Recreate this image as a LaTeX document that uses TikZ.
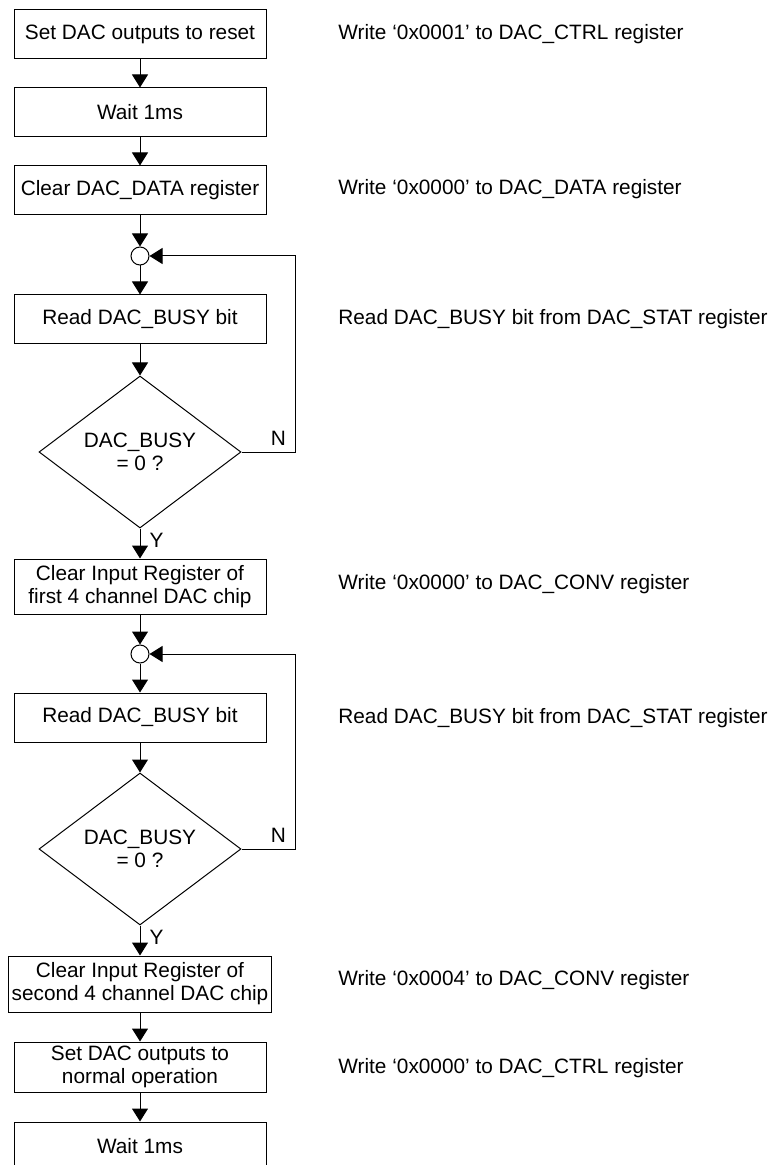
\documentclass[tikz,border=0pt]{standalone}
\usepackage{fontspec}
\setmainfont{Liberation Sans}
\usetikzlibrary{arrows.meta,shapes.geometric}

\newcommand{\flowfont}{\fontsize{10.4}{11.5}\selectfont}

\tikzset{
  box/.style={draw, line width=0.5pt, minimum width=126pt, minimum height=24.5pt,
    inner sep=1pt, align=center, font=\flowfont},
  decision/.style={draw, diamond, line width=0.5pt, minimum width=101pt,
    minimum height=76pt, inner sep=0pt, align=center, font=\flowfont},
  junction/.style={draw, circle, line width=0.5pt, minimum size=9pt, inner sep=0pt},
  note/.style={anchor=base west, inner sep=0pt, font=\flowfont},
  answer/.style={inner sep=0pt, font=\flowfont},
  flow/.style={line width=0.5pt, -{Triangle[length=6.5pt,width=8pt]}},
}

\begin{document}
\begin{tikzpicture}[x=0.5pt, y=-0.5pt]
      \useasboundingbox (0,0) rectangle (772,1165);

      \node[box] (reset) at (140, 34.5) {Set DAC outputs to reset};
      \node[box] (waitA) at (140, 112.5) {Wait 1ms};
      \node[box] (cleardata) at (140, 190.5) {Clear DAC\_DATA register};
      \node[junction] (joinA) at (140, 256) {};
      \node[box] (readA) at (140, 319.5) {Read DAC\_BUSY bit};
      \node[decision] (busyA) at (140, 452) {DAC\_BUSY\\= 0 ?};
      \node[box, minimum height=27.5pt] (firstdac) at (140, 586.5)
        {Clear Input Register of\\first 4 channel DAC chip};
      \node[junction] (joinB) at (140, 654) {};
      \node[box] (readB) at (140, 717.5) {Read DAC\_BUSY bit};
      \node[decision] (busyB) at (140, 849) {DAC\_BUSY\\= 0 ?};
      \node[box, minimum width=131.5pt, minimum height=28pt] (seconddac) at (140, 984)
        {Clear Input Register of\\second 4 channel DAC chip};
      \node[box, minimum height=25pt] (normal) at (140, 1067)
        {Set DAC outputs to\\normal operation};
      \node[box] (waitB) at (140, 1146.5) {Wait 1ms};

      \node[note] (noteReset) at (338, 40) {Write ‘0x0001’ to DAC\_CTRL register};
      \node[note] (noteData) at (338, 195) {Write ‘0x0000’ to DAC\_DATA register};
      \node[note] (noteReadA) at (338, 325) {Read DAC\_BUSY bit from DAC\_STAT register};
      \node[note] (noteConvA) at (338, 589) {Write ‘0x0000’ to DAC\_CONV register};
      \node[note] (noteReadB) at (338, 723) {Read DAC\_BUSY bit from DAC\_STAT register};
      \node[note] (noteConvB) at (338, 985) {Write ‘0x0004’ to DAC\_CONV register};
      \node[note] (noteNormal) at (338, 1073) {Write ‘0x0000’ to DAC\_CTRL register};

      \draw[flow] (reset) -- (waitA);
      \draw[flow] (waitA) -- (cleardata);
      \draw[flow] (cleardata) -- (joinA);
      \draw[flow] (joinA) -- (readA);
      \draw[flow] (readA) -- (busyA);
      \draw[flow] (busyA.east) -- ++(54,0)
        node[answer, anchor=south east, xshift=-4.5pt, yshift=3pt] (noA) {N}
        |- (joinA.east);
      \draw[flow] (busyA.south)
        node[answer, anchor=north west, xshift=4.5pt, yshift=-2pt] (yesA) {Y}
        -- (firstdac);

      \draw[flow] (firstdac) -- (joinB);
      \draw[flow] (joinB) -- (readB);
      \draw[flow] (readB) -- (busyB);
      \draw[flow] (busyB.east) -- ++(54,0)
        node[answer, anchor=south east, xshift=-4.5pt, yshift=3pt] (noB) {N}
        |- (joinB.east);
      \draw[flow] (busyB.south)
        node[answer, anchor=north west, xshift=4.5pt, yshift=-2pt] (yesB) {Y}
        -- (seconddac);
      \draw[flow] (seconddac) -- (normal);
      \draw[flow] (normal) -- (waitB);
    \end{tikzpicture}
\end{document}
